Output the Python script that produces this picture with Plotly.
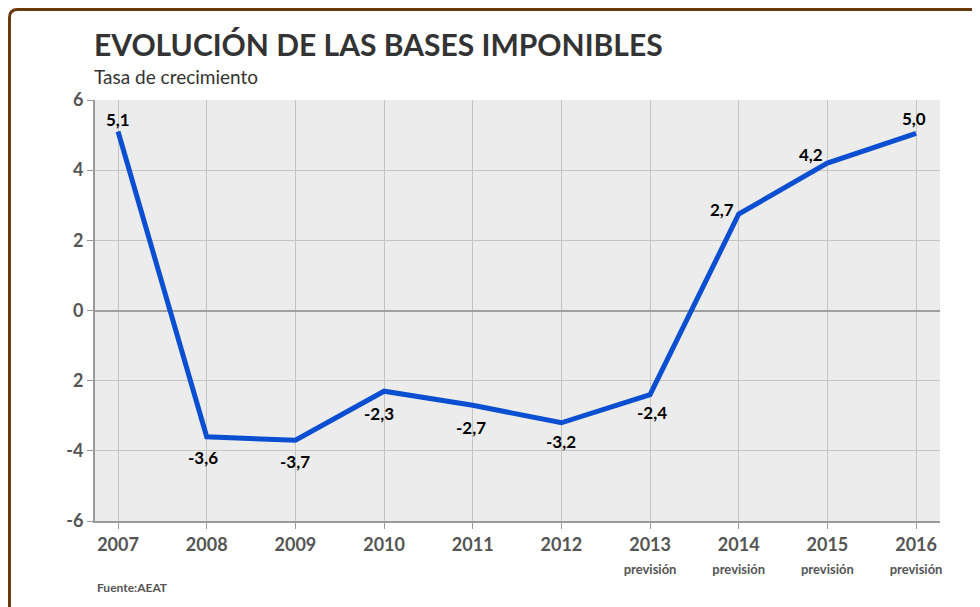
import plotly.graph_objects as go

# Datos
years = ["2007", "2008", "2009", "2010", "2011", "2012", "2013", "2014", "2015", "2016"]
growth = [5.1, -3.6, -3.7, -2.3, -2.7, -3.2, -2.4, 2.75, 4.2, 5.05]
labels = ["5,1", "-3,6", "-3,7", "-2,3", "-2,7", "-3,2", "-2,4", "2,7", "4,2", "5,0"]
forecast = [False, False, False, False, False, False, True, True, True, True]
y_ticks = [6, 4, 2, 0, -2, -4, -6]
y_ticktext = ["6", "4", "2", "0", "2", "-4", "-6"]

# desplazamiento de las etiquetas (px)
label_dx = [0, -4, 0, -5, -2, 0, 2, -17, -16, -2]
label_dy = [12, -21, -21, -22, -22, -19, -18, 5, 9, 15]

x = list(range(len(years)))
x_ticktext = [
    y + ("<br><span style='font-size:13px'>previsión</span>" if f else "")
    for y, f in zip(years, forecast)
]

fig = go.Figure()
fig.add_trace(go.Scatter(
    x=x, y=growth, mode="lines",
    line=dict(color="#0a4fd1", width=5),
    showlegend=False, hoverinfo="skip",
))

annotations = [
    dict(x=xi, y=v, text=f"<b>{t}</b>", showarrow=False, xshift=dx, yshift=dy,
         font=dict(family="Lato", size=17, color="black"))
    for xi, v, t, dx, dy in zip(x, growth, labels, label_dx, label_dy)
]

# la página añade 8 px de margen, se compensa aquí
W, H = 972, 599
ML, MR, MT, MB = 87, 40, 92, 86
pw, ph = W - ML - MR, H - MT - MB

annotations += [
    dict(text="<b>EVOLUCIÓN DE LAS BASES IMPONIBLES</b>", xref="paper", yref="paper",
         x=0.0, y=1.0 + 56 / ph, xanchor="left", yanchor="middle", showarrow=False,
         xshift=-3, font=dict(size=30, color="#333333", family="Lato")),
    dict(text="Tasa de crecimiento", xref="paper", yref="paper",
         x=0.0, y=1.0 + 24 / ph, xanchor="left", yanchor="middle", showarrow=False,
         xshift=-3, font=dict(size=19, color="#333333", family="Lato")),
    dict(text="<b>Fuente:AEAT</b>", xref="paper", yref="paper",
         x=0.0, y=-66 / ph, xanchor="left", yanchor="middle", showarrow=False,
         font=dict(size=12, color="#555555", family="Lato")),
]

fig.update_layout(
    width=W, height=H,
    margin=dict(l=ML, r=MR, t=MT, b=MB, autoexpand=False),
    paper_bgcolor="white", plot_bgcolor="#ececec",
    font=dict(family="Lato", color="#555555"),
    xaxis=dict(
        tickvals=x, ticktext=x_ticktext, range=[-0.26, 9.27],
        showgrid=True, gridcolor="#c4c4c4", gridwidth=1,
        showline=True, linecolor="#999999", linewidth=2,
        ticks="outside", ticklen=6, tickcolor="#999999",
        tickfont=dict(size=18, color="#555555", weight="bold"), zeroline=False,
    ),
    yaxis=dict(
        tickvals=y_ticks, ticktext=y_ticktext, range=[-6, 6],
        showgrid=True, gridcolor="#c4c4c4", gridwidth=1,
        showline=True, linecolor="#999999", linewidth=2,
        ticks="outside", ticklen=6, tickcolor="#999999",
        tickfont=dict(size=18, color="#555555", weight="bold"),
        zeroline=True, zerolinecolor="#a0a0a0", zerolinewidth=2,
    ),
    annotations=annotations,
)

# Marco marrón (izquierda y arriba, esquina redondeada)
x0 = -(ML - 1.5) / pw
y0 = 1 + (MT - 1.5) / ph
rx = 8 / pw
ry = 8 / ph
fig.add_shape(
    type="path", xref="paper", yref="paper",
    path=f"M {x0},{-0.3} L {x0},{y0 - ry} Q {x0},{y0} {x0 + rx},{y0} L 1.2,{y0}",
    line=dict(color="#6b3a0c", width=3),
)

fig.write_html("out.html")
